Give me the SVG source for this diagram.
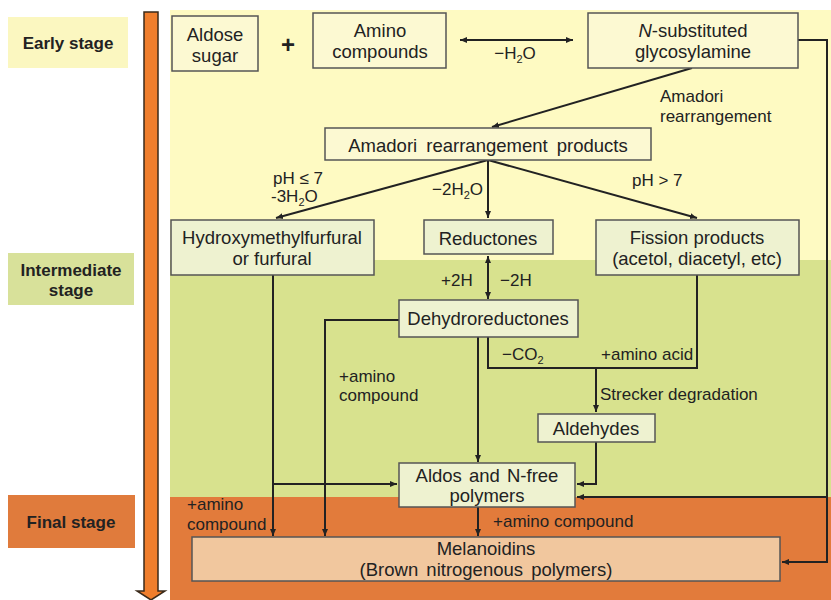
<svg xmlns="http://www.w3.org/2000/svg" width="831" height="600" viewBox="0 0 831 600">
<defs>
<marker id="ah" markerWidth="8" markerHeight="8" refX="7" refY="4" orient="auto" markerUnits="userSpaceOnUse">
<path d="M0,1 L7,4 L0,7 Z" fill="#222"/>
</marker>
<marker id="ahs" markerWidth="8" markerHeight="8" refX="1" refY="4" orient="auto" markerUnits="userSpaceOnUse">
<path d="M8,1 L1,4 L8,7 Z" fill="#222"/>
</marker>
<style>
text{font-family:"Liberation Sans",Arial,sans-serif;font-size:17px;fill:#222}
.n{font-size:18.5px}
.c{text-anchor:middle}
.b{font-weight:bold}
.by{fill:#FCF9D2;stroke:#555;stroke-width:1.5}
.bg{fill:#EEF2D0;stroke:#555;stroke-width:1.5}
.bo{fill:#F1C79E;stroke:#555;stroke-width:1.5}
.ln{fill:none;stroke:#222;stroke-width:2}
</style>
</defs>
<rect width="831" height="600" fill="#fff"/>
<!-- stage labels -->
<g id="stage-early"><rect x="8" y="17" width="120" height="51" fill="#FBF7C0"/><text class="c b" x="68" y="49">Early stage</text></g>
<g id="stage-intermediate"><rect x="8" y="253" width="126" height="52" fill="#D8E19A"/><text class="c b" x="71" y="276">Intermediate</text><text class="c b" x="71" y="296">stage</text></g>
<g id="stage-final"><rect x="8" y="495" width="127" height="53" fill="#E07B3C"/><text class="c b" x="71" y="528">Final stage</text></g>
<!-- time arrow -->
<path d="M144,12 L158,12 L158,591 L165,591 L151,600 L137,591 L144,591 Z" fill="#F07E2C" stroke="#3a2a1a" stroke-width="1.5"/>
<!-- panel backgrounds -->
<rect x="170" y="10" width="661" height="250" fill="#FEFAC2"/>
<rect x="170" y="260" width="661" height="237" fill="#D8E28E"/>
<rect x="170" y="497" width="661" height="103" fill="#E27B3B"/>
<!-- connectors -->
<g id="connectors">
<line class="ln" x1="460" y1="40" x2="573" y2="40" marker-start="url(#ahs)" marker-end="url(#ah)"/>
<line class="ln" x1="692" y1="68" x2="492" y2="127" marker-end="url(#ah)"/>
<line class="ln" x1="488" y1="160" x2="276" y2="218" marker-end="url(#ah)"/>
<line class="ln" x1="488" y1="160" x2="488" y2="218" marker-end="url(#ah)"/>
<line class="ln" x1="488" y1="160" x2="697" y2="218" marker-end="url(#ah)"/>
<line class="ln" x1="488" y1="256" x2="488" y2="299" marker-start="url(#ahs)" marker-end="url(#ah)"/>
<polyline class="ln" points="798,40 827,40 827,562 782,562" marker-end="url(#ah)"/>
<polyline class="ln" points="827,497 577,497" marker-end="url(#ah)"/>
<line class="ln" x1="273" y1="275" x2="273" y2="536" marker-end="url(#ah)"/>
<polyline class="ln" points="273,484 397,484" marker-end="url(#ah)"/>
<polyline class="ln" points="399,320 325,320 325,536" marker-end="url(#ah)"/>
<line class="ln" x1="478" y1="337" x2="478" y2="462" marker-end="url(#ah)"/>
<polyline class="ln" points="488,337 488,368 697,368 697,275"/>
<line class="ln" x1="596" y1="368" x2="596" y2="412" marker-end="url(#ah)"/>
<polyline class="ln" points="596,442 596,484 577,484" marker-end="url(#ah)"/>
<line class="ln" x1="478" y1="507" x2="478" y2="536" marker-end="url(#ah)"/>
</g>
<!-- nodes -->
<g id="aldose"><rect class="by" x="172" y="16" width="86" height="55"/><text class="c n" x="215" y="41">Aldose</text><text class="c n" x="215" y="62">sugar</text></g>
<g id="plus"><text class="c b" x="288" y="53" style="font-size:24px">+</text></g>
<g id="amino"><rect class="by" x="313" y="13" width="133" height="55"/><text class="c n" x="380" y="37">Amino</text><text class="c n" x="380" y="58">compounds</text></g>
<g id="glycosylamine"><rect class="by" x="588" y="13" width="210" height="55"/><text class="c n" x="693" y="37"><tspan font-style="italic">N</tspan>-substituted</text><text class="c n" x="693" y="58">glycosylamine</text></g>
<g id="amadori"><rect class="by" x="325" y="128" width="326" height="32"/><text class="c n" x="488" y="152" style="word-spacing:4px">Amadori rearrangement products</text></g>
<g id="hmf"><rect class="bg" x="171" y="220" width="203" height="55"/><text class="c n" x="272" y="244">Hydroxymethylfurfural</text><text class="c n" x="272" y="265">or furfural</text></g>
<g id="reductones"><rect class="bg" x="424" y="220" width="129" height="34"/><text class="c n" x="488" y="245">Reductones</text></g>
<g id="fission"><rect class="bg" x="596" y="220" width="203" height="55"/><text class="c n" x="697" y="244">Fission products</text><text class="c n" x="697" y="265">(acetol, diacetyl, etc)</text></g>
<g id="dehydro"><rect class="bg" x="399" y="300" width="179" height="37"/><text class="c n" x="488" y="325">Dehydroreductones</text></g>
<g id="aldehydes"><rect class="bg" x="538" y="414" width="117" height="28"/><text class="c n" x="596" y="435">Aldehydes</text></g>
<g id="aldos"><rect class="bg" x="399" y="463" width="176" height="44"/><text class="c n" x="487" y="482" style="word-spacing:2px">Aldos and N-free</text><text class="c n" x="487" y="502">polymers</text></g>
<g id="melanoidins"><rect class="bo" x="192" y="537" width="588" height="44"/><text class="c n" x="486" y="555">Melanoidins</text><text class="c n" x="486" y="576" style="word-spacing:3px">(Brown nitrogenous polymers)</text></g>
<!-- edge labels -->
<g id="labels">
<text class="c" x="515" y="59">−H<tspan font-size="11" dy="4">2</tspan><tspan dy="-4">O</tspan></text>
<text x="660" y="102">Amadori</text>
<text x="660" y="122">rearrangement</text>
<text x="273" y="184">pH ≤ 7</text>
<text x="271" y="202">-3H<tspan font-size="11" dy="4">2</tspan><tspan dy="-4">O</tspan></text>
<text x="432" y="195">−2H<tspan font-size="11" dy="4">2</tspan><tspan dy="-4">O</tspan></text>
<text x="632" y="186">pH &gt; 7</text>
<text x="441" y="286">+2H</text>
<text x="500" y="286">−2H</text>
<text x="502" y="360">−CO<tspan font-size="11" dy="4">2</tspan></text>
<text x="601" y="360">+amino acid</text>
<text x="600" y="400">Strecker degradation</text>
<text x="339" y="382">+amino</text>
<text x="339" y="401">compound</text>
<text x="187" y="510">+amino</text>
<text x="187" y="530">compound</text>
<text x="493" y="527">+amino compound</text>
</g>
</svg>
